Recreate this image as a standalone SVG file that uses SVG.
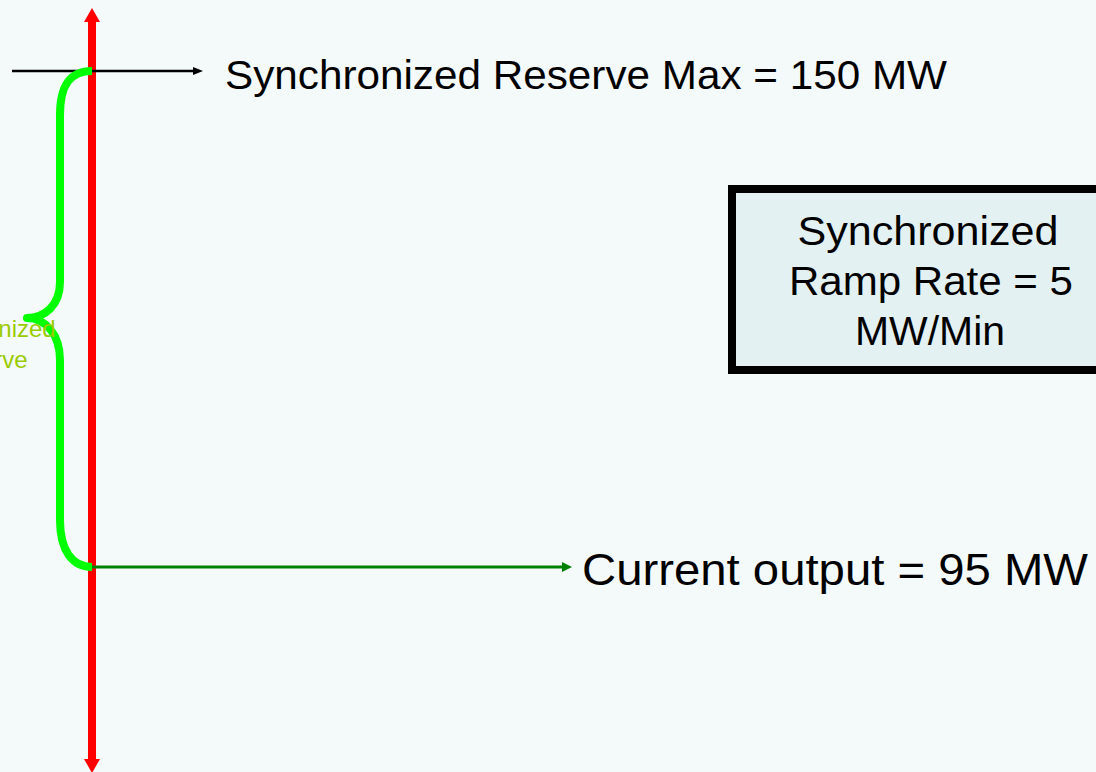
<svg xmlns="http://www.w3.org/2000/svg" width="1096" height="772" viewBox="0 0 1096 772">
<style>
.lbl{font-family:"Liberation Sans",Arial,sans-serif;fill:#000}
.brace{fill:none;stroke:#00ff00;stroke-width:8;stroke-linecap:butt;stroke-linejoin:round}
.green-lbl{font-family:"Liberation Sans",Arial,sans-serif;fill:#99cc00;font-size:24px}
</style>
<defs>
<marker id="redHead" markerUnits="userSpaceOnUse" markerWidth="16" markerHeight="16" refX="0" refY="8" orient="auto-start-reverse" viewBox="0 0 16 16">
<path d="M0,0 L14,8 L0,16 z" fill="#ff0000"/>
</marker>
<marker id="blackHead" markerUnits="userSpaceOnUse" markerWidth="11" markerHeight="9" refX="0" refY="4.5" orient="auto" viewBox="0 0 11 9">
<path d="M0,0.5 L10,4.5 L0,8.5 z" fill="#000"/>
</marker>
<marker id="greenHead" markerUnits="userSpaceOnUse" markerWidth="11" markerHeight="11" refX="0" refY="5.5" orient="auto" viewBox="0 0 11 11">
<path d="M0,0.5 L10,5.5 L0,10.5 z" fill="#008000"/>
</marker>
</defs>
<rect x="0" y="0" width="1096" height="772" fill="#f4f9fa"/>
<g id="connectors">
<path id="axis" d="M92,22 L92,759" stroke="#ff0000" stroke-width="8" fill="none" marker-start="url(#redHead)" marker-end="url(#redHead)"/>
<path id="max-arrow" d="M12,71 L193,71" stroke="#000" stroke-width="2.5" fill="none" marker-end="url(#blackHead)"/>
<path id="current-arrow" d="M92,567 L562,567" stroke="#008000" stroke-width="3" fill="none" marker-end="url(#greenHead)"/>
<path id="brace" class="brace" d="M92,71 C70,71 60,85 60,115 L60,282 C60,305 45,318 27,318 C45,318 60,334 60,360 L60,520 C60,550 72,567 92,567"/>
</g>
<g id="reserve-label">
<text class="green-lbl" text-anchor="middle" x="-17" y="336.5">Synchronized</text>
<text class="green-lbl" text-anchor="middle" x="-17" y="368">Reserve</text>
</g>
<g id="max-label">
<text class="lbl" x="225" y="89" font-size="40.5" textLength="722" lengthAdjust="spacingAndGlyphs">Synchronized Reserve Max = 150 MW</text>
</g>
<g id="current-label">
<text class="lbl" x="582" y="585" font-size="45" textLength="506" lengthAdjust="spacingAndGlyphs">Current output = 95 MW</text>
</g>
<g id="ramp-box">
<rect x="732" y="189" width="420" height="181" fill="#e4f1f3" stroke="#000" stroke-width="8"/>
<text class="lbl" x="928" y="245" font-size="40" text-anchor="middle" textLength="261" lengthAdjust="spacingAndGlyphs">Synchronized</text>
<text class="lbl" x="931" y="295" font-size="40" text-anchor="middle" textLength="284" lengthAdjust="spacingAndGlyphs">Ramp Rate = 5</text>
<text class="lbl" x="930" y="345" font-size="40" text-anchor="middle" textLength="150" lengthAdjust="spacingAndGlyphs">MW/Min</text>
</g>
</svg>
